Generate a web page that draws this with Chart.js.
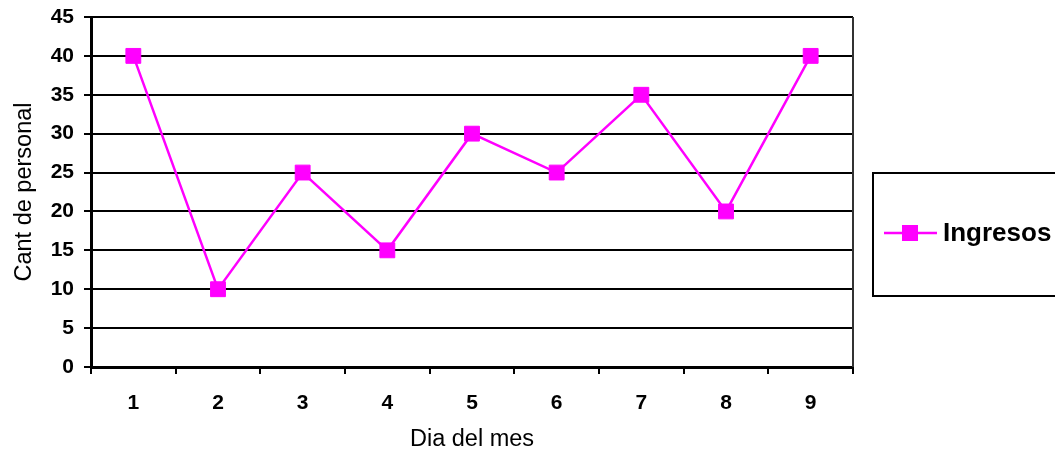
<!DOCTYPE html>
<html>
<head>
<meta charset="utf-8">
<script src="https://cdn.jsdelivr.net/npm/chart.js@4.4.1/dist/chart.umd.min.js"></script>
<style>
  html, body { margin: 0; padding: 0; background: #fff; }
  #wrap { width: 1055px; height: 454px; position: relative; }
</style>
</head>
<body>
<div id="wrap"><canvas id="chart"></canvas></div>
<script>
// datos del gráfico
const dias = ["1", "2", "3", "4", "5", "6", "7", "8", "9"];
const ingresos = [40, 10, 25, 15, 30, 25, 35, 20, 40];
const serieNombre = "Ingresos";
const ejeY = { min: 0, max: 45, paso: 5 };

const fuente = "'Liberation Sans', Arial, sans-serif";
const magenta = "#FF00FF";

// fondo blanco + borde derecho + leyenda en caja
const extras = {
    id: 'extras',
    beforeDraw(chart) {
        const ctx = chart.ctx;
        ctx.save();
        ctx.fillStyle = '#fff';
        ctx.fillRect(0, 0, chart.width, chart.height);
        ctx.restore();
    },
    afterDraw(chart) {
        const ctx = chart.ctx;
        const a = chart.chartArea;
        ctx.save();
        // borde derecho del área
        ctx.strokeStyle = '#333';
        ctx.lineWidth = 2;
        ctx.beginPath();
        ctx.moveTo(a.right, a.top);
        ctx.lineTo(a.right, a.bottom);
        ctx.stroke();

        // caja de leyenda
        ctx.strokeStyle = '#000';
        ctx.lineWidth = 2;
        ctx.strokeRect(873, 173, 190, 123);
        const ds = chart.data.datasets[0];
        const y = 233;
        ctx.strokeStyle = ds.borderColor;
        ctx.lineWidth = 2.5;
        ctx.beginPath();
        ctx.moveTo(884, y);
        ctx.lineTo(937, y);
        ctx.stroke();
        ctx.fillStyle = ds.pointBackgroundColor;
        ctx.fillRect(902, y - 8, 16, 16);
        ctx.fillStyle = '#000';
        ctx.font = "bold 26px " + fuente;
        ctx.textBaseline = 'middle';
        ctx.textAlign = 'left';
        ctx.fillText(ds.label, 943, y + 1);
        ctx.restore();
    }
};

const ctx = document.getElementById('chart').getContext('2d');
new Chart(ctx, {
    type: 'line',
    data: {
        labels: dias,
        datasets: [{
            label: serieNombre,
            data: ingresos,
            borderColor: magenta,
            backgroundColor: magenta,
            borderWidth: 2.5,
            tension: 0,
            pointStyle: 'rect',
            pointRadius: 10.5,
            pointBorderWidth: 1,
            pointBackgroundColor: magenta,
            pointBorderColor: magenta
        }]
    },
    options: {
        responsive: true,
        maintainAspectRatio: false,
        animation: false,
        layout: { padding: { top: 17, right: 202, bottom: 0, left: 0 } },
        plugins: {
            legend: { display: false },
            tooltip: { enabled: false }
        },
        scales: {
            x: {
                offset: true,
                grid: { offset: true, drawOnChartArea: false, tickLength: 7, color: '#000', lineWidth: 2 },
                border: { color: '#000', width: 3 },
                ticks: { color: '#000', padding: 17, font: { family: fuente, size: 21, weight: 'bold' } },
                title: { display: true, text: 'Dia del mes', color: '#000', padding: { top: 0, bottom: 0 }, font: { family: fuente, size: 23.5 } },
                afterFit: (s) => { s.height = 87; }
            },
            y: {
                min: ejeY.min,
                max: ejeY.max,
                ticks: { stepSize: ejeY.paso, color: '#000', padding: 10, font: { family: fuente, size: 21, weight: 'bold' } },
                grid: { color: '#000', lineWidth: 2, tickLength: 7 },
                border: { color: '#000', width: 3 },
                title: { display: true, text: 'Cant de personal', color: '#000', padding: { top: 10, bottom: 0 }, font: { family: fuente, size: 23.5 } },
                afterFit: (s) => {
                    s.width = 91;
                    s.paddingTop = 0;
                    s.paddingBottom = 0;
                }
            }
        }
    },
    plugins: [extras]
});
</script>
</body>
</html>
